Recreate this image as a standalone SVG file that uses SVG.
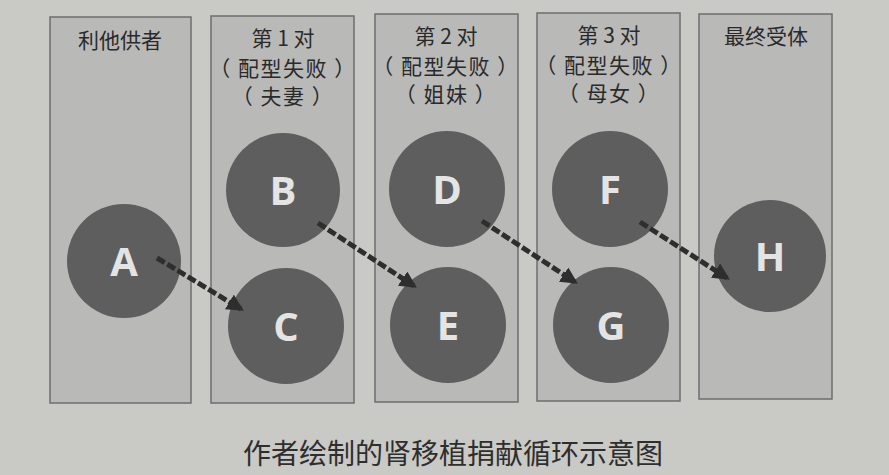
<svg xmlns="http://www.w3.org/2000/svg" width="889" height="475" viewBox="0 0 889 475">
<style>
.col{fill:#b9b9b8;stroke:#6e6e6e;stroke-width:1.5}
.hd{font-family:"Noto Sans CJK SC","Liberation Serif",serif;font-size:21px;fill:#2a2a2a;text-anchor:middle}
.sp{letter-spacing:1.5px}
.nd{fill:#5e5e5e}
.lt{font-family:"Open Sans","Liberation Sans",sans-serif;font-weight:bold;font-size:40px;fill:#e4e4e4;text-anchor:middle}
.ar{stroke:#2e2e2e;stroke-width:5;stroke-dasharray:9 3;fill:none;marker-end:url(#ah)}
.cap{font-family:"Noto Sans CJK SC",sans-serif;font-size:28px;fill:#2e2e2e;text-anchor:middle}
</style>
<defs>
<marker id="ah" viewBox="0 0 10 10" refX="8" refY="5" markerWidth="3.4" markerHeight="3.4" orient="auto" markerUnits="strokeWidth">
<path d="M0,0 L10,5 L0,10 z" fill="#2e2e2e"/>
</marker>
</defs>
<rect width="889" height="475" fill="#c9c9c6"/>
<g id="col1"><rect class="col" x="50" y="17" width="141" height="386"/><text class="hd" x="120" y="48">利他供者</text></g>
<g id="col2"><rect class="col" x="211" y="16" width="143" height="387"/><text class="hd" x="283" y="46">第 1 对</text><text class="hd sp" x="283" y="76">（ 配型失败 ）</text><text class="hd sp" x="283" y="104">（ 夫妻 ）</text></g>
<g id="col3"><rect class="col" x="375" y="14" width="143" height="388"/><text class="hd" x="446" y="44">第 2 对</text><text class="hd sp" x="446" y="74">（ 配型失败 ）</text><text class="hd sp" x="446" y="102">（ 姐妹 ）</text></g>
<g id="col4"><rect class="col" x="537" y="13" width="143" height="388"/><text class="hd" x="609" y="43">第 3 对</text><text class="hd sp" x="609" y="73">（ 配型失败 ）</text><text class="hd sp" x="609" y="101">（ 母女 ）</text></g>
<g id="col5"><rect class="col" x="699" y="14" width="133" height="385"/><text class="hd" x="766" y="44">最终受体</text></g>
<g id="A"><circle class="nd" cx="124" cy="261" r="57"/><text class="lt" x="124" y="276">A</text></g>
<g id="B"><circle class="nd" cx="283" cy="190" r="57"/><text class="lt" x="283" y="205">B</text></g>
<g id="C"><circle class="nd" cx="286" cy="326" r="58"/><text class="lt" x="286" y="341">C</text></g>
<g id="D"><circle class="nd" cx="447" cy="189" r="58"/><text class="lt" x="447" y="204">D</text></g>
<g id="E"><circle class="nd" cx="448" cy="325" r="58"/><text class="lt" x="448" y="340">E</text></g>
<g id="F"><circle class="nd" cx="610" cy="189" r="58"/><text class="lt" x="610" y="204">F</text></g>
<g id="G"><circle class="nd" cx="611" cy="325" r="58"/><text class="lt" x="611" y="340">G</text></g>
<g id="H"><circle class="nd" cx="770" cy="256" r="56"/><text class="lt" x="770" y="271">H</text></g>
<g id="connectors">
<line class="ar" x1="157" y1="258" x2="241" y2="309"/>
<line class="ar" x1="318" y1="223" x2="414" y2="286"/>
<line class="ar" x1="482" y1="221" x2="575" y2="282"/>
<line class="ar" x1="640" y1="222" x2="727" y2="278"/>
</g>
<text class="cap" x="453" y="464">作者绘制的肾移植捐献循环示意图</text>
</svg>
